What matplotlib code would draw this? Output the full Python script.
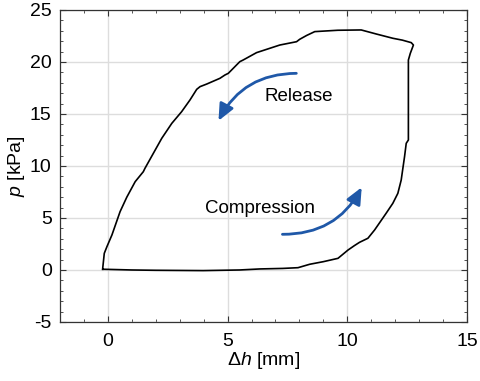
import numpy as np
import matplotlib
matplotlib.use("Agg")
import matplotlib.pyplot as plt

# police type Arial
plt.rcParams['font.family'] = ['Liberation Sans', 'DejaVu Sans']
plt.rcParams['mathtext.fontset'] = 'custom'
plt.rcParams['mathtext.rm'] = 'Liberation Sans'
plt.rcParams['mathtext.it'] = 'Liberation Sans:italic'
plt.rcParams['axes.unicode_minus'] = False

#--------------------------------------------------------------
# Données (boucle compression / relâchement)
#--------------------------------------------------------------
dh = [-0.18, 1.0, 2.0, 3.98, 5.5, 6.35, 7.3, 7.94, 8.43, 9.0, 9.61, 10.03, 10.3, 10.51,
      10.86, 11.14, 11.35, 11.62, 11.9, 12.11, 12.25, 12.32, 12.39, 12.46, 12.55, 12.55,
      12.55, 12.63, 12.76, 12.67, 12.3, 11.9, 11.21, 10.58, 9.6, 8.64, 8.3, 8.01, 7.88, 7.18,
      6.21, 5.65, 5.51, 5.03, 4.89, 4.68, 4.13, 3.85, 3.71, 3.43, 3.08, 2.67, 2.25, 1.9,
      1.55, 1.48, 1.14, 0.79, 0.51, 0.17, -0.04, -0.15, -0.22]
p = [0.07, 0.0, -0.03, -0.06, 0.0, 0.1, 0.15, 0.22, 0.55, 0.8, 1.12, 1.92, 2.35, 2.66,
     3.05, 3.85, 4.55, 5.45, 6.41, 7.37, 8.65, 9.78, 10.9, 12.18, 12.5, 16.5, 20.19,
     20.83, 21.63, 21.86, 22.1, 22.28, 22.69, 23.08, 23.05, 22.92, 22.55, 22.18, 21.95, 21.63,
     20.9, 20.19, 20.03, 18.91, 18.75, 18.43, 17.88, 17.63, 17.37, 16.35, 15.22, 14.1, 12.66, 11.22,
     9.78, 9.45, 8.49, 7.0, 5.61, 3.37, 2.24, 1.6, 0.06]

# flèches (départ, arrivée) et textes
release_arrow = [(7.87, 18.91), (4.62, 14.35)]
compression_arrow = [(7.29, 3.43), (10.6, 7.95)]
labels = ['Release', 'Compression']
label_pos = [(7.98, 16.67), (6.35, 5.93)]

xticks = [0, 5, 10, 15]
yticks = [-5, 0, 5, 10, 15, 20, 25]

#--------------------------------------------------------------
# Figure
#--------------------------------------------------------------
fig = plt.figure(figsize=(4.81, 3.81), dpi=100)
ax = fig.add_axes([0.1247, 0.1549, 0.8463, 0.8189])

ax.plot(dh, p, c='k', lw=1.2)

bleu = '#1F58A8'
for (a, b) in [release_arrow, compression_arrow]:
    ax.annotate('', xy=b, xytext=a,
                arrowprops=dict(arrowstyle='-|>,head_length=1.0,head_width=0.45', color=bleu,
                                lw=2, connectionstyle='arc3,rad=0.3', shrinkA=0, shrinkB=0))

for txt, (tx, ty) in zip(labels, label_pos):
    ax.text(tx, ty, txt, fontsize=13.5, ha='center', va='center')

ax.set_xlim(-2, 15)
ax.set_ylim(-5, 25)
ax.set_xticks(xticks)
ax.set_yticks(yticks)
ax.set_xticks(np.arange(-2, 16, 1), minor=True)
ax.set_yticks(np.arange(-5, 26, 1), minor=True)
ax.tick_params(which='both', direction='in', top=True, right=True, labelsize=14, color='#333333')
ax.tick_params(which='major', length=4)
ax.tick_params(which='minor', length=2.5)
ax.tick_params(axis='x', which='major', pad=8)
ax.tick_params(axis='y', which='major', pad=6)
for s in ax.spines.values():
    s.set_color('#333333')
    s.set_linewidth(0.9)
ax.grid(True, which='major', color='#dddddd', lw=1)
ax.set_axisbelow(True)

ax.set_xlabel('Δ$\\it{h}$ [mm]', fontsize=14, labelpad=0)
ax.set_ylabel('$\\it{p}$ [kPa]', fontsize=14, labelpad=2)

plt.savefig('out.png', dpi=100)
